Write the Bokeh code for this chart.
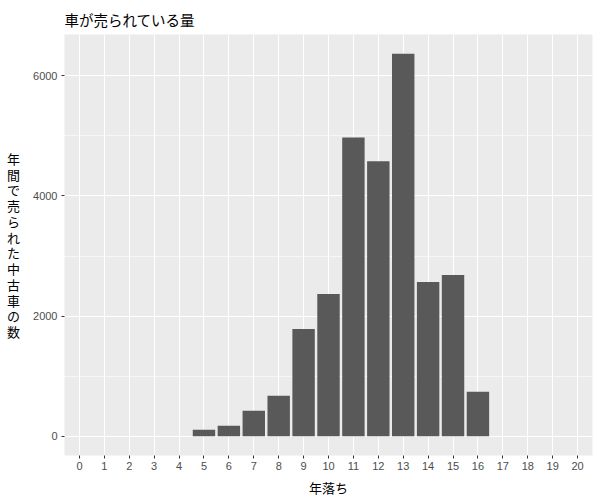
from bokeh.plotting import figure
from bokeh.models import Range1d, FixedTicker
from bokeh.embed import file_html
from bokeh.resources import INLINE

years = list(range(0, 21))
counts = [0, 0, 0, 0, 0, 111, 178, 427, 675, 1786, 2368, 4974, 4576, 6368, 2568, 2684, 742, 0, 0, 0, 0]
x_ticks = list(range(0, 21))
y_ticks = [0, 2000, 4000, 6000]
y_minor = [1000, 3000, 5000]

title = "車が売られている量"
ylabel = "年間で売られた中古車の数"
xlabel = "年落ち"

JP = "Noto Sans CJK JP"
LAT = "Liberation Sans"

ymax = max(counts)
p = figure(width=600, height=500, output_backend="svg", toolbar_location=None,
           x_range=Range1d(-0.6, 20.6), y_range=Range1d(-0.05 * ymax, 1.05 * ymax),
           min_border_left=64, min_border_right=8, min_border_top=34, min_border_bottom=45)

xs = [x for x, c in zip(years, counts) if c > 0]
cs = [c for c in counts if c > 0]
p.vbar(x=xs, top=cs, bottom=0, width=0.9, fill_color="#595959", line_color=None)

p.background_fill_color = "#EBEBEB"
p.border_fill_color = "white"
p.outline_line_color = None

p.title.text = title
p.title.text_font = JP
p.title.text_font_size = "14.5px"
p.title.text_font_style = "normal"
p.title.align = "left"
p.title.text_color = "black"
p.title.text_line_height = 0.8
p.title.standoff = 10

p.xaxis.ticker = FixedTicker(ticks=x_ticks)
p.yaxis.ticker = FixedTicker(ticks=y_ticks, minor_ticks=y_minor)
for ax in (p.xaxis, p.yaxis):
    ax.axis_line_color = None
    ax.major_tick_line_color = "#333333"
    ax.major_tick_in = 0
    ax.major_tick_out = 3
    ax.minor_tick_line_color = None
    ax.major_label_text_font = LAT
    ax.major_label_text_font_size = "11px"
    ax.major_label_text_color = "#4D4D4D"
    ax.axis_label_text_font = JP
    ax.axis_label_text_font_size = "13px"
    ax.axis_label_text_font_style = "normal"
    ax.axis_label_text_color = "black"

p.xaxis.axis_label = xlabel
p.xaxis.major_label_standoff = 3
p.xaxis.axis_label_standoff = 5
p.yaxis.axis_label = "\n".join(ylabel)
p.yaxis.axis_label_orientation = "horizontal"
p.yaxis.axis_label_text_line_height = 0.83
p.yaxis.major_label_standoff = 3
p.yaxis.axis_label_standoff = 10

p.xgrid.grid_line_color = "white"
p.xgrid.grid_line_width = 1.1
p.ygrid.grid_line_color = "white"
p.ygrid.grid_line_width = 1.1
p.ygrid.minor_grid_line_color = "white"
p.ygrid.minor_grid_line_width = 0.55

open("out.html", "w").write(file_html(p, INLINE))
